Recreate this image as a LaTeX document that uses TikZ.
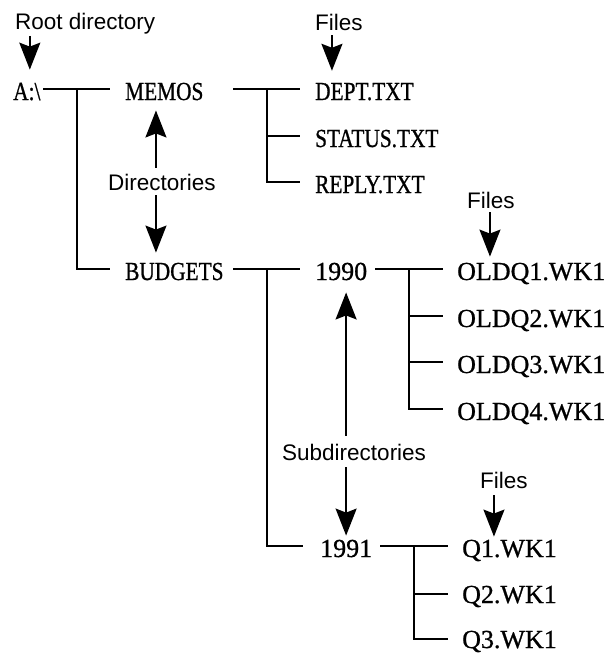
\documentclass[tikz,border=0pt]{standalone}
\usepackage{fontspec}
\setmainfont{Liberation Serif}
\setsansfont{Liberation Sans}
\newfontfamily\narrowserif[FakeStretch=0.82, FakeBold=0.8]{Liberation Serif}
\newfontfamily\wideserif[FakeBold=0.8]{Liberation Serif}
\usetikzlibrary{arrows.meta}
\tikzstyle{narrow}=[anchor=base west, inner sep=0pt, font=\narrowserif\fontsize{26}{30}\selectfont]
\tikzstyle{wide}=[anchor=base west, inner sep=0pt, font=\wideserif\fontsize{26}{30}\selectfont]
\tikzstyle{note}=[anchor=base west, inner sep=0pt, font=\sffamily\fontsize{22.5}{26}\selectfont]
\tikzstyle{tree}=[line width=2.6pt]
\tikzstyle{pointer}=[line width=1.8pt, -{Stealth[length=27pt, width=21pt, inset=4pt]}]

\begin{document}
\begin{tikzpicture}[x=1pt, y=-1pt]
	\useasboundingbox (0,0) rectangle (607,654);

	% Directories
	\node[narrow] (root) at (13,100) {A:\textbackslash};
	\node[narrow] (memos) at (125,100) {MEMOS};
	\node[narrow] (budgets) at (125,280) {BUDGETS};
	\node[wide] (y1990) at (315,280) {1990};
	\node[wide] (y1991) at (320,557) {1991};

	% Files
	\node[narrow] (dept) at (315,100) {DEPT.TXT};
	\node[narrow] (status) at (315,147) {STATUS.TXT};
	\node[narrow] (reply) at (315,193) {REPLY.TXT};
	\node[wide] (oldq1) at (457,280) {OLDQ1.WK1};
	\node[wide] (oldq2) at (457,327) {OLDQ2.WK1};
	\node[wide] (oldq3) at (457,373) {OLDQ3.WK1};
	\node[wide] (oldq4) at (457,420) {OLDQ4.WK1};
	\node[wide] (q1) at (462,557) {Q1.WK1};
	\node[wide] (q2) at (462,603) {Q2.WK1};
	\node[wide] (q3) at (462,648) {Q3.WK1};

	% Captions
	\node[note] (rootlbl) at (15,29) {Root directory};
	\node[note] (files1) at (315,30) {Files};
	\node[note] (dirs) at (108,190) {Directories};
	\node[note] (files2) at (467,208) {Files};
	\node[note] (subdirs) at (282,460) {Subdirectories};
	\node[note] (files3) at (480,488) {Files};

	% Junctions of the tree
	\coordinate (jroot) at ([xshift=-48pt, yshift=11pt]memos.base west);
	\coordinate (jmemos) at ([xshift=-48pt, yshift=11pt]dept.base west);
	\coordinate (jbudgets) at ([xshift=-48pt, yshift=11pt]y1990.base west);
	\coordinate (j1990) at ([xshift=-48pt, yshift=11pt]oldq1.base west);
	\coordinate (j1991) at ([xshift=-48pt, yshift=11pt]q1.base west);

	% Tree lines
	\draw[tree] ([xshift=-34pt]jroot) -- ([xshift=-15pt, yshift=11pt]memos.base west);
	\draw[tree] (jroot) |- ([xshift=-15pt, yshift=11pt]budgets.base west);

	\draw[tree] ([xshift=-34pt]jmemos) -- ([xshift=-15pt, yshift=11pt]dept.base west);
	\foreach \c in {status, reply}{ \draw[tree] (jmemos) |- ([xshift=-15pt, yshift=11pt]\c.base west); }

	\draw[tree] ([xshift=-34pt]jbudgets) -- ([xshift=-15pt, yshift=11pt]y1990.base west);
	\draw[tree] (jbudgets) |- ([xshift=-17pt, yshift=11pt]y1991.base west);

	\draw[tree] ([xshift=-34pt]j1990) -- ([xshift=-14pt, yshift=11pt]oldq1.base west);
	\foreach \c in {oldq2, oldq3, oldq4}{ \draw[tree] (j1990) |- ([xshift=-14pt, yshift=11pt]\c.base west); }

	\draw[tree] ([xshift=-34pt]j1991) -- ([xshift=-14pt, yshift=11pt]q1.base west);
	\foreach \c in {q2, q3}{ \draw[tree] (j1991) |- ([xshift=-14pt, yshift=9pt]\c.base west); }

	% Pointers from the captions
	\draw[pointer, shorten <=2pt, shorten >=13pt] ([xshift=3pt]root.north |- rootlbl.south) -- ([xshift=3pt]root.north);
	\draw[pointer, shorten <=5pt, shorten >=12pt] ([xshift=-7pt]files1.south) -- ([xshift=-7pt]files1.south |- dept.north);
	\draw[pointer, shorten <=6pt, shorten >=10pt] ([xshift=-6pt]dirs.north) -- ([xshift=-6pt]dirs.north |- memos.south);
	\draw[pointer, shorten <=5pt, shorten >=10pt] ([xshift=-6pt]dirs.south) -- ([xshift=-6pt]dirs.south |- budgets.north);
	\draw[pointer, shorten <=8pt, shorten >=12pt] ([xshift=-8pt]subdirs.north) -- ([xshift=-8pt]subdirs.north |- y1990.south);
	\draw[pointer, shorten <=7pt, shorten >=4pt] ([xshift=-8pt]subdirs.south) -- ([xshift=-8pt]subdirs.south |- y1991.north);
	\draw[pointer, shorten <=4pt, shorten >=6pt] ([xshift=-1pt]files2.south) -- ([xshift=-1pt]files2.south |- oldq1.north);
	\draw[pointer, shorten <=7pt, shorten >=3pt] ([xshift=-10pt]files3.south) -- ([xshift=-10pt]files3.south |- q1.north);
\end{tikzpicture}
\end{document}
